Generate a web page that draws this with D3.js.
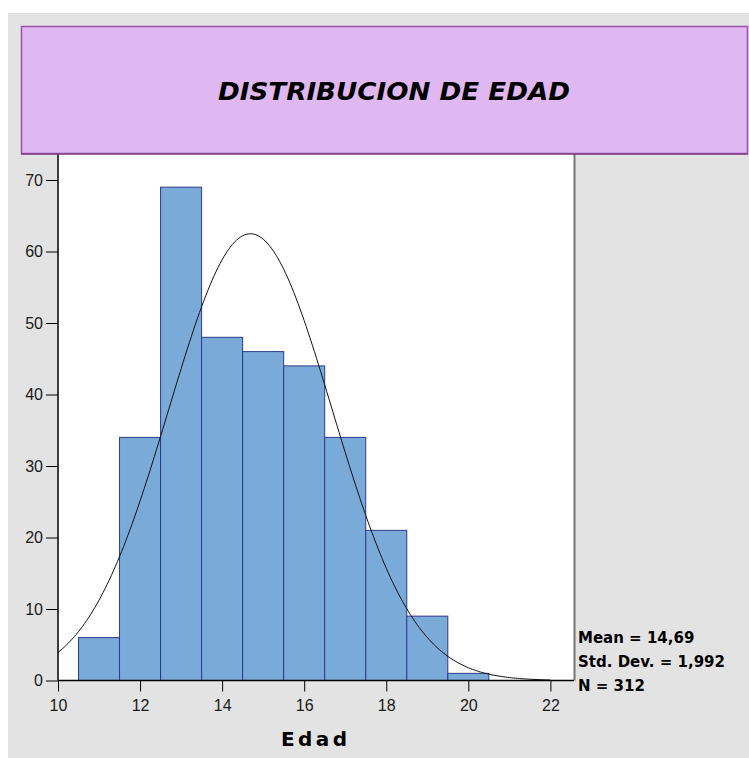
<!DOCTYPE html>
<html>
<head>
<meta charset="utf-8">
<script src="https://cdn.jsdelivr.net/npm/d3@7"></script>
<style>
  body { margin: 0; background: #fff; }
  svg { display: block; font-family: "Liberation Sans", Arial, sans-serif; }
</style>
</head>
<body>
<svg width="749" height="758"></svg>
<script>
// data
var binStarts = [10.5, 11.5, 12.5, 13.5, 14.5, 15.5, 16.5, 17.5, 18.5, 19.5];
var counts = [6, 34, 69, 48, 46, 44, 34, 21, 9, 1];
var xTicks = [10, 12, 14, 16, 18, 20, 22];
var yTicks = [0, 10, 20, 30, 40, 50, 60, 70];
var mean = 14.69, sd = 1.992, n = 312;
var statLines = ["Mean = 14,69", "Std. Dev. = 1,992", "N = 312"];

var svg = d3.select("svg");

// grey panel
svg.append("rect").attr("x", 8).attr("y", 13).attr("width", 741).attr("height", 745)
    .attr("fill", "#e3e3e3");

var left = 58, right = 574, top = 154, bottom = 680.5;

// white plot area
svg.append("rect").attr("x", left).attr("y", 140).attr("width", right - left).attr("height", bottom - 140)
    .attr("fill", "#fff");
svg.append("line").attr("x1", right + 0.5).attr("x2", right + 0.5).attr("y1", 140).attr("y2", bottom)
    .attr("stroke", "#777").attr("stroke-width", 2);

var x = d3.scaleLinear().domain([10, 22.6]).range([left, right + 1]);
var y = d3.scaleLinear().domain([0, 70]).range([bottom, 180]);

// bars
svg.append("g").selectAll("rect")
    .data(counts)
    .enter().append("rect")
    .attr("x", function (d, i) { return x(binStarts[i]); })
    .attr("width", function (d, i) { return x(binStarts[i] + 1) - x(binStarts[i]); })
    .attr("y", function (d) { return y(d); })
    .attr("height", function (d) { return y(0) - y(d); })
    .attr("fill", "#7aaad7")
    .attr("stroke", "#2e3a8c")
    .attr("stroke-width", 1);

// normal curve
var pts = d3.range(10, 22.001, 0.05).map(function (v) {
    var z = (v - mean) / sd;
    return [v, n / sd * Math.exp(-z * z / 2) / Math.sqrt(2 * Math.PI)];
});
svg.append("path")
    .datum(pts)
    .attr("fill", "none")
    .attr("stroke", "#111")
    .attr("stroke-width", 1)
    .attr("d", d3.line().x(function (d) { return x(d[0]); }).y(function (d) { return y(d[1]); }));

// axes
var yAxis = svg.append("g").attr("transform", "translate(" + left + ",0)")
    .call(d3.axisLeft(y).tickValues(yTicks).tickSize(12).tickPadding(3));
var xAxis = svg.append("g").attr("transform", "translate(0," + bottom + ")")
    .call(d3.axisBottom(x).tickValues(xTicks).tickSize(11).tickPadding(8));
[xAxis, yAxis].forEach(function (a) {
    a.attr("font-size", null).attr("font-family", null);
    a.select(".domain").attr("stroke", "#000").attr("stroke-width", 1.5);
    a.selectAll(".tick line").attr("stroke", "#000");
    a.selectAll("text").style("font-size", "16px").attr("fill", "#1a1a1a")
        .style("font-family", "'Liberation Sans', Arial, sans-serif");
});
yAxis.select(".domain").attr("d", "M0," + 140 + "V" + bottom);
xAxis.select(".domain").attr("d", "M" + left + ",0H" + right);

// title box
svg.append("rect").attr("x", 21.5).attr("y", 26.5).attr("width", 726).attr("height", 127)
    .attr("fill", "#dfb8f2").attr("stroke", "#9a52a6").attr("stroke-width", 1.5);
svg.append("line").attr("x1", 21).attr("x2", 748).attr("y1", 154).attr("y2", 154)
    .attr("stroke", "#7b3f85").attr("stroke-width", 1.5);
svg.append("text")
    .attr("x", 394).attr("y", 100)
    .attr("text-anchor", "middle")
    .style("font-family", "'DejaVu Sans', sans-serif")
    .attr("font-size", 24).attr("font-weight", "bold").attr("font-style", "italic")
    .attr("textLength", 352).attr("lengthAdjust", "spacingAndGlyphs")
    .text("DISTRIBUCION DE EDAD");

// x label
svg.append("text")
    .attr("x", 314).attr("y", 746)
    .attr("text-anchor", "middle")
    .style("font-family", "'DejaVu Sans', sans-serif")
    .attr("font-size", 20).attr("font-weight", "bold")
    .attr("textLength", 66).attr("lengthAdjust", "spacing")
    .text("Edad");

// stats
svg.append("g").selectAll("text")
    .data(statLines)
    .enter().append("text")
    .attr("x", 578)
    .attr("y", function (d, i) { return 643 + i * 24; })
    .style("font-family", "'DejaVu Sans', sans-serif")
    .attr("font-size", 15).attr("font-weight", "bold")
    .text(function (d) { return d; });
</script>
</body>
</html>
